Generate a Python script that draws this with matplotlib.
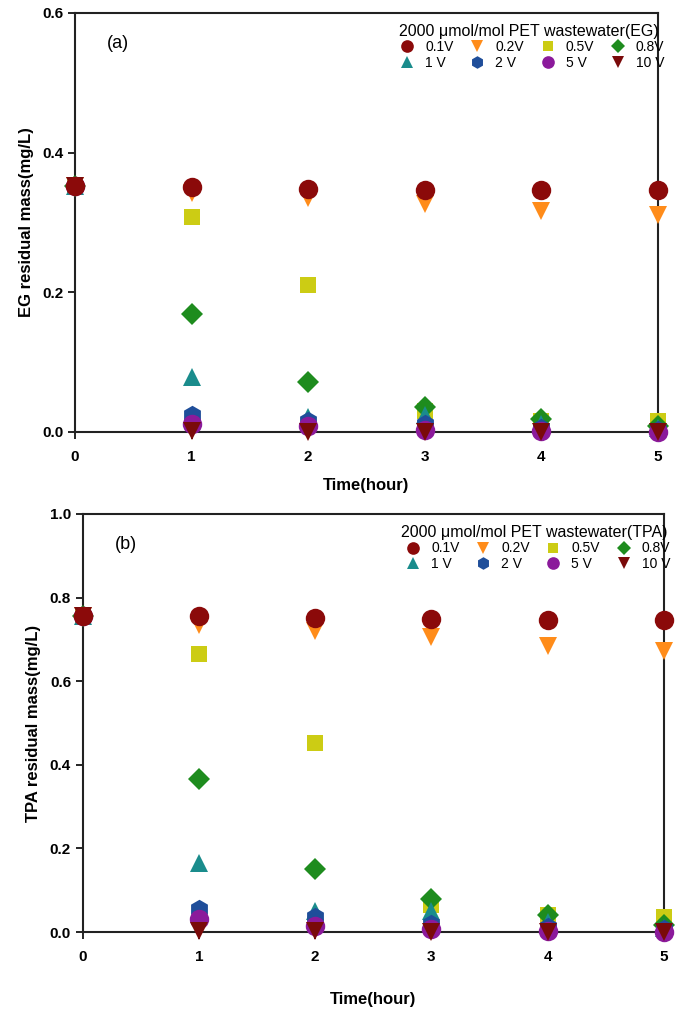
import matplotlib
matplotlib.use("Agg")
import matplotlib.pyplot as plt

plt.rcParams['font.family'] = ['Liberation Sans', 'DejaVu Sans']

# time (hour)
time = [0, 1, 2, 3, 4, 5]

# series: label, marker, colour
labels = ["0.1V", "0.2V", "0.5V", "0.8V", "1 V", "2 V", "5 V", "10 V"]
markers = ["o", "v", "s", "D", "^", "h", "o", "v"]
colors = ["#8b0a0a", "#ff8c1a", "#cccc14", "#1e8c1e", "#1a8c8c", "#1f4e9a", "#8b1a9b", "#7a0a0a"]

# EG residual mass (mg/L)
eg = {
    "0.1V": [0.352, 0.351, 0.348, 0.347, 0.347, 0.346],
    "0.2V": [0.352, 0.342, 0.335, 0.327, 0.317, 0.310],
    "0.5V": [0.352, 0.308, 0.210, 0.030, 0.016, 0.015],
    "0.8V": [0.352, 0.169, 0.071, 0.036, 0.018, 0.008],
    "1 V":  [0.352, 0.078, 0.022, 0.025, 0.012, 0.005],
    "2 V":  [0.352, 0.025, 0.015, 0.012, 0.005, 0.003],
    "5 V":  [0.352, 0.012, 0.008, 0.003, 0.002, 0.000],
    "10 V": [0.352, 0.002, 0.000, 0.000, 0.000, 0.000],
}

# TPA residual mass (mg/L)
tpa = {
    "0.1V": [0.755, 0.755, 0.750, 0.748, 0.747, 0.746],
    "0.2V": [0.755, 0.735, 0.720, 0.705, 0.685, 0.672],
    "0.5V": [0.755, 0.665, 0.452, 0.065, 0.040, 0.035],
    "0.8V": [0.755, 0.365, 0.150, 0.078, 0.040, 0.018],
    "1 V":  [0.755, 0.165, 0.050, 0.050, 0.025, 0.010],
    "2 V":  [0.755, 0.055, 0.035, 0.020, 0.012, 0.008],
    "5 V":  [0.755, 0.030, 0.015, 0.008, 0.003, 0.000],
    "10 V": [0.755, 0.003, 0.003, 0.000, 0.000, 0.000],
}

draw_order = ["0.2V", "0.5V", "0.8V", "1 V", "2 V", "5 V", "10 V", "0.1V"]


def panel(ax, data, ymax, yticks, ylabel, tag, title, xpad):
    handles = {}
    for i, lab in enumerate(draw_order):
        k = labels.index(lab)
        ms = 14 if markers[k] in ("o", "h") else 13
        if markers[k] == "D":
            ms = 11
        if markers[k] == "s":
            ms = 12
        h, = ax.plot(time, data[lab], linestyle="none", marker=markers[k],
                     color=colors[k], markersize=ms, markeredgewidth=0,
                     clip_on=False, zorder=3 + i, label=lab)
        handles[lab] = h
    ax.set_xlim(0, 5)
    ax.set_ylim(0, ymax)
    ax.set_xticks(time)
    ax.set_yticks(yticks)
    ax.set_yticklabels(["%.1f" % v for v in yticks])
    for s in ax.spines.values():
        s.set_linewidth(1.5)
        s.set_color("#222222")
    ax.tick_params(direction="out", length=5, width=1.2, labelsize=11)
    ax.tick_params(axis="x", pad=8)
    for t in ax.get_xticklabels() + ax.get_yticklabels():
        t.set_fontweight("bold")
    ax.set_xlabel("Time(hour)", fontsize=12, fontweight="bold", labelpad=xpad)
    ax.set_ylabel(ylabel, fontsize=12, fontweight="bold", labelpad=6)
    ax.text(0.055, 0.915, tag, transform=ax.transAxes, fontsize=13)
    # legend order is column-wise in matplotlib
    order = ["0.1V", "1 V", "0.2V", "2 V", "0.5V", "5 V", "0.8V", "10 V"]
    ax.legend([handles[o] for o in order], order, ncol=4, frameon=False,
              loc="upper right", bbox_to_anchor=(1.03, 1.0),
              title=title, title_fontsize=11.5, fontsize=10,
              handletextpad=0.3, columnspacing=0.7, labelspacing=0.1,
              markerscale=0.65, borderpad=0.3)


fig = plt.figure(figsize=(6.85, 10.1), dpi=100)
ax1 = fig.add_axes([0.1095, 0.5723, 0.851, 0.415])
ax2 = fig.add_axes([0.121, 0.0772, 0.848, 0.414])

panel(ax1, eg, 0.6, [0.0, 0.2, 0.4, 0.6], "EG residual mass(mg/L)", "(a)",
      "2000 \u03bcmol/mol PET wastewater(EG)", 10)
panel(ax2, tpa, 1.0, [0.0, 0.2, 0.4, 0.6, 0.8, 1.0], "TPA residual mass(mg/L)", "(b)",
      "2000 \u03bcmol/mol PET wastewater(TPA)", 20)

fig.savefig("out.png", dpi=100)
